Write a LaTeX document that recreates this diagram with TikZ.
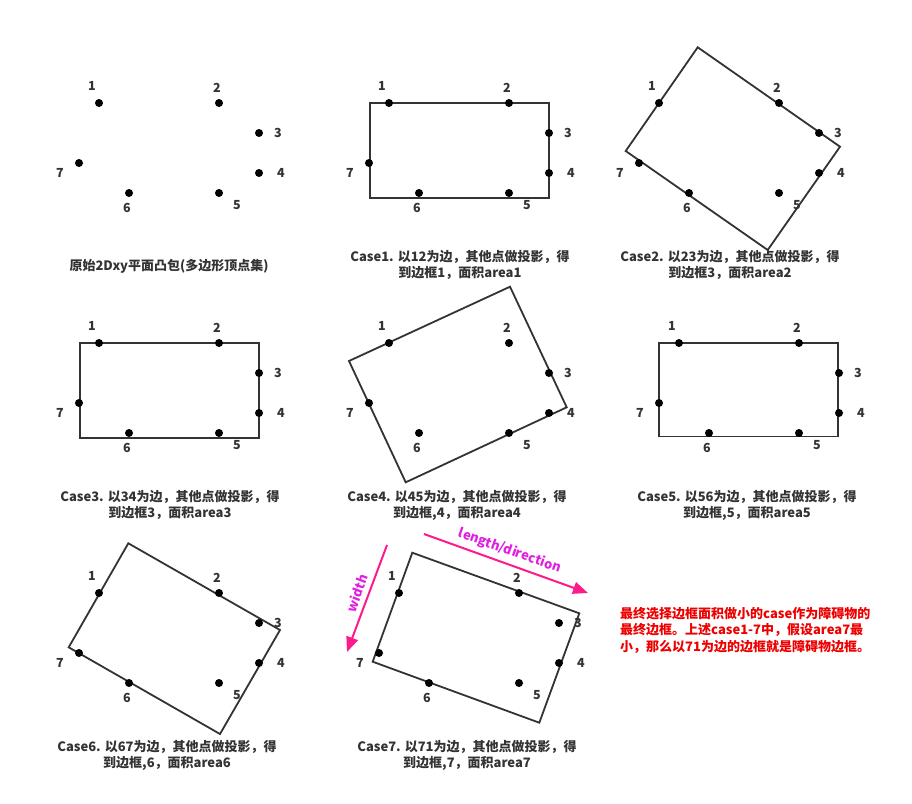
\documentclass[tikz,border=0pt]{standalone}
\usepackage{fontspec}
\setmainfont{Noto Sans CJK SC}
\usetikzlibrary{arrows.meta}
\definecolor{ink}{HTML}{333333}
\definecolor{arrowpink}{HTML}{FF1A8C}
\definecolor{lblmag}{HTML}{E020E0}
\definecolor{notered}{HTML}{EE0000}
\newcommand\hullpts[3]{%
  \begin{scope}[shift={(#1,#2)}]
    \node[dotpt] (#3-1) at (99,103) {};
    \node[dotpt] (#3-2) at (219,103) {};
    \node[dotpt] (#3-3) at (259,133) {};
    \node[dotpt] (#3-4) at (259,173) {};
    \node[dotpt] (#3-5) at (219,193) {};
    \node[dotpt] (#3-6) at (129,193) {};
    \node[dotpt] (#3-7) at (79,163) {};
    \node[numlbl] (#3-l1) at (92,86) {1};
    \node[numlbl] (#3-l2) at (217,88) {2};
    \node[numlbl] (#3-l3) at (278,133) {3};
    \node[numlbl] (#3-l4) at (281,173) {4};
    \node[numlbl] (#3-l5) at (237,205) {5};
    \node[numlbl] (#3-l6) at (127,208) {6};
    \node[numlbl] (#3-l7) at (60,173) {7};
  \end{scope}}
\begin{document}
\begin{tikzpicture}[x=1pt,y=-1pt,
  dotpt/.style={circle,fill=black,inner sep=0pt,minimum size=8pt},
  numlbl/.style={font=\fontsize{12.5}{14}\selectfont\bfseries,text=ink,inner sep=0pt},
  frame/.style={draw=ink,line width=1.8pt,line join=miter},
  capnode/.style={font=\fontsize{13}{16}\selectfont\bfseries,text=ink,align=center,inner sep=0pt},
  pinkarrow/.style={draw=arrowpink,line width=2pt,-{Triangle[length=15pt,width=12pt]}},
  maglbl/.style={font=\fontsize{13}{15}\selectfont\bfseries,text=lblmag,inner sep=0pt},
  notenode/.style={font=\fontsize{13}{16.5}\selectfont\bfseries,text=notered,align=left,inner sep=0pt}]
\useasboundingbox[fill=white] (0,0) rectangle (912,803);

% frames
\begin{scope}[shift={(290,0)}]
  \draw[frame] (80,103) rectangle (259,198);
\end{scope}
\begin{scope}[shift={(560,0)}]
  \draw[frame] (137.7,47.3) -- (280,146.7) -- (207.7,250) -- (65.7,151) -- cycle;
\end{scope}
\begin{scope}[shift={(0,240)}]
  \draw[frame] (80,103) rectangle (259,198);
\end{scope}
\begin{scope}[shift={(290,240)}]
  \draw[frame] (220,46.7) -- (276.7,167.3) -- (115.7,242.3) -- (59,121) -- cycle;
\end{scope}
\begin{scope}[shift={(580,240)}]
  \draw[frame] (79,103) rectangle (258,196.5);
\end{scope}
\begin{scope}[shift={(0,490)}]
  \draw[frame] (128.3,53.3) -- (280,140) -- (220,244) -- (68.7,157.3) -- cycle;
\end{scope}
\begin{scope}[shift={(300,490)}]
  \draw[frame] (112.3,62.7) -- (279.3,123.3) -- (239.3,232.7) -- (72.7,171.7) -- cycle;
\end{scope}

% points and labels
\hullpts{0}{0}{p0}
\hullpts{290}{0}{p1}
\hullpts{560}{0}{p2}
\hullpts{0}{240}{p3}
\hullpts{290}{240}{p4}
\hullpts{580}{240}{p5}
\hullpts{0}{490}{p6}
\hullpts{300}{490}{p7}

% captions
\node[capnode] (cap0) at (169,266) {原始2Dxy平面凸包(多边形顶点集)};
\node[capnode] (cap1) at (460,265) {Case1. 以12为边，其他点做投影，得\\到边框1，面积area1};
\node[capnode] (cap2) at (730,265) {Case2. 以23为边，其他点做投影，得\\到边框3，面积area2};
\node[capnode] (cap3) at (170,505) {Case3. 以34为边，其他点做投影，得\\到边框3，面积area3};
\node[capnode] (cap4) at (457,505) {Case4. 以45为边，其他点做投影，得\\到边框,4，面积area4};
\node[capnode] (cap5) at (747,505) {Case5. 以56为边，其他点做投影，得\\到边框,5，面积area5};
\node[capnode] (cap6) at (167,755) {Case6. 以67为边，其他点做投影，得\\到边框,6，面积area6};
\node[capnode] (cap7) at (467,755) {Case7. 以71为边，其他点做投影，得\\到边框,7，面积area7};

% arrows
\coordinate (lenS) at (424,534);
\coordinate (lenE) at (588,593);
\draw[pinkarrow] (lenS) -- (lenE);
\node[maglbl,rotate=-19.6] (lenlbl) at (510,551) {length/direction};
\coordinate (widS) at (387,545);
\coordinate (widE) at (347,652);
\draw[pinkarrow] (widS) -- (widE);
\node[maglbl,rotate=69.6] (widlbl) at (357,593) {width};

% note
\node[notenode,anchor=west] (note) at (620,630) {最终选择边框面积做小的case作为障碍物的\\最终边框。上述case1-7中，假设area7最\\小，那么以71为边的边框就是障碍物边框。};
\end{tikzpicture}
\end{document}
